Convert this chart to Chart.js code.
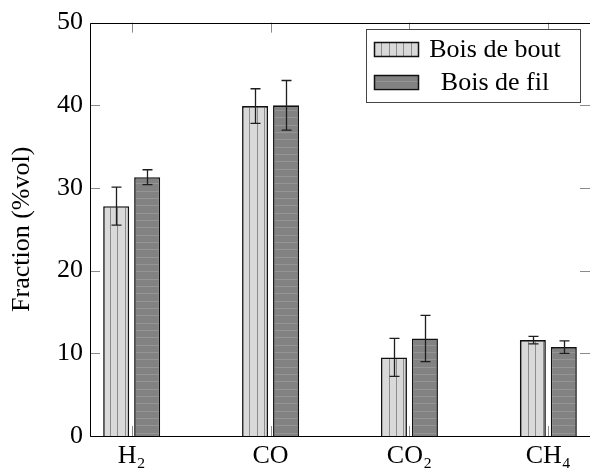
<!DOCTYPE html>
<html>
<head>
<meta charset="utf-8">
<script src="https://cdn.jsdelivr.net/npm/chart.js@4/dist/chart.umd.min.js"></script>
<style>
  html, body { margin: 0; padding: 0; background: #fff; overflow: hidden; }
  #wrap { width: 590px; height: 469px; }
</style>
</head>
<body>
<div id="wrap"><canvas id="gasChart" width="590" height="469"></canvas></div>
<script>
// Composition des gaz (%vol)
const gases = ["H\u2082", "CO", "CO\u2082", "CH\u2084"];
const seriesNames = ["Bois de bout", "Bois de fil"];
const boisBout = [27.8, 39.9, 9.5, 11.6];
const boisFil = [31.3, 40.0, 11.8, 10.75];
const errBout = [2.3, 2.1, 2.3, 0.45];
const errFil = [0.9, 3.0, 2.8, 0.75];
const yTicks = [0, 10, 20, 30, 40, 50];

const serif = "'Liberation Serif', 'DejaVu Serif', serif";
Chart.defaults.font.family = serif;
Chart.defaults.color = "#000";

// motifs de remplissage : lignes verticales / horizontales
function makePattern(vertical) {
  const tile = document.createElement("canvas");
  tile.width = vertical ? 22 : 1;
  tile.height = vertical ? 1 : 22;
  const c = tile.getContext("2d");
  c.fillStyle = vertical ? "#d9d9d9" : "#828282";
  c.fillRect(0, 0, tile.width, tile.height);
  c.fillStyle = vertical ? "#8c8c8c" : "#959595";
  [0, 7, 15].forEach(p => {
    if (vertical) c.fillRect(p, 0, 1, 1);
    else c.fillRect(0, p, 1, 1);
  });
  return document.getElementById("gasChart").getContext("2d").createPattern(tile, "repeat");
}
const patBout = makePattern(true);
const patFil = makePattern(false);

const errors = [errBout, errFil];

// cadre, graduations internes
const framePlugin = {
  id: "frame",
  beforeDatasetsDraw(chart) {
    const { ctx, chartArea: a, scales } = chart;
    ctx.save();
    ctx.strokeStyle = "#8a8a8a";
    ctx.lineWidth = 1;
    ctx.beginPath();
    yTicks.forEach(v => {
      const y = Math.round(scales.y.getPixelForValue(v)) + 0.5;
      ctx.moveTo(a.left, y); ctx.lineTo(a.left + 10, y);
      ctx.moveTo(a.right, y); ctx.lineTo(a.right - 10, y);
    });
    gases.forEach((g, i) => {
      const x = Math.round(scales.x.getPixelForValue(i)) + 0.5;
      ctx.moveTo(x, a.bottom); ctx.lineTo(x, a.bottom - 10);
      ctx.moveTo(x, a.top); ctx.lineTo(x, a.top + 10);
    });
    ctx.stroke();
    ctx.restore();
  },
  afterDatasetsDraw(chart) {
    const { ctx, chartArea: a, scales } = chart;
    ctx.save();
    // barres d'erreur
    ctx.strokeStyle = "#1e1e1e";
    ctx.lineWidth = 1.3;
    chart.data.datasets.forEach((ds, di) => {
      chart.getDatasetMeta(di).data.forEach((bar, j) => {
        const v = ds.data[j].y, e = errors[di][j];
        const x = Math.round(bar.x) + 0.5;
        const yt = scales.y.getPixelForValue(v + e);
        const yb = scales.y.getPixelForValue(v - e);
        ctx.beginPath();
        ctx.moveTo(x, yt); ctx.lineTo(x, yb);
        ctx.moveTo(x - 5, yt); ctx.lineTo(x + 5, yt);
        ctx.moveTo(x - 5, yb); ctx.lineTo(x + 5, yb);
        ctx.stroke();
      });
    });
    // axes
    ctx.strokeStyle = "#000";
    ctx.lineWidth = 1;
    ctx.beginPath();
    ctx.moveTo(a.right, Math.round(a.top) + 0.5);
    ctx.lineTo(a.left + 0.5, Math.round(a.top) + 0.5);
    ctx.lineTo(a.left + 0.5, Math.round(a.bottom) + 0.5);
    ctx.lineTo(a.right, Math.round(a.bottom) + 0.5);
    ctx.stroke();
    ctx.restore();
  },
  afterDraw(chart) {
    // légende encadrée
    const { ctx } = chart;
    const lx = 366.5, ly = 29.5, lw = 214, lh = 73;
    ctx.save();
    ctx.fillStyle = "#fff";
    ctx.fillRect(lx, ly, lw, lh);
    ctx.strokeStyle = "#444";
    ctx.lineWidth = 1;
    ctx.strokeRect(lx, ly, lw, lh);
    chart.data.datasets.forEach((ds, i) => {
      const sy = 42 + i * 33;
      ctx.fillStyle = ds.backgroundColor;
      ctx.fillRect(374, sy, 45, 15);
      ctx.strokeStyle = "#111";
      ctx.lineWidth = 1.5;
      ctx.strokeRect(374.5, sy + 0.5, 44, 14);
      ctx.fillStyle = "#000";
      ctx.font = "26px " + serif;
      ctx.textAlign = "center";
      ctx.textBaseline = "middle";
      ctx.fillText(ds.label, 495, sy + 8);
    });
    ctx.restore();
  }
};

new Chart(document.getElementById("gasChart"), {
  type: "bar",
  data: {
    datasets: [
      {
        label: seriesNames[0],
        data: boisBout.map((v, i) => ({ x: i, y: v })),
        backgroundColor: patBout,
        borderColor: "#111",
        borderWidth: 1.6
      },
      {
        label: seriesNames[1],
        data: boisFil.map((v, i) => ({ x: i, y: v })),
        backgroundColor: patFil,
        borderColor: "#111",
        borderWidth: 1.6
      }
    ]
  },
  options: {
    responsive: false,
    animation: false,
    devicePixelRatio: 1,
    categoryPercentage: 0.446,
    barPercentage: 0.84,
    layout: { padding: { top: 20, left: 0, right: 0, bottom: 0 } },
    plugins: {
      legend: { display: false },
      tooltip: { enabled: false }
    },
    scales: {
      x: {
        type: "linear",
        offset: false,
        min: -0.3,
        max: 3.3,
        grid: { display: false, drawTicks: false, offset: false },
        border: { display: false },
        afterBuildTicks: axis => { axis.ticks = gases.map((g, i) => ({ value: i })); },
        afterFit: axis => { axis.height = 33; },
        ticks: {
          padding: 5,
          maxRotation: 0,
          font: { size: 26 },
          callback: v => gases[v]
        }
      },
      y: {
        min: 0,
        max: 50,
        grid: { display: false, drawTicks: false },
        border: { display: false },
        afterBuildTicks: axis => { axis.ticks = yTicks.map(v => ({ value: v })); },
        afterFit: axis => { axis.width = 90; },
        ticks: { padding: 7, font: { size: 26 } },
        title: {
          display: true,
          text: "Fraction (%vol)",
          font: { size: 26 },
          padding: { top: 7, bottom: 0 }
        }
      }
    }
  },
  plugins: [framePlugin]
});
</script>
</body>
</html>
